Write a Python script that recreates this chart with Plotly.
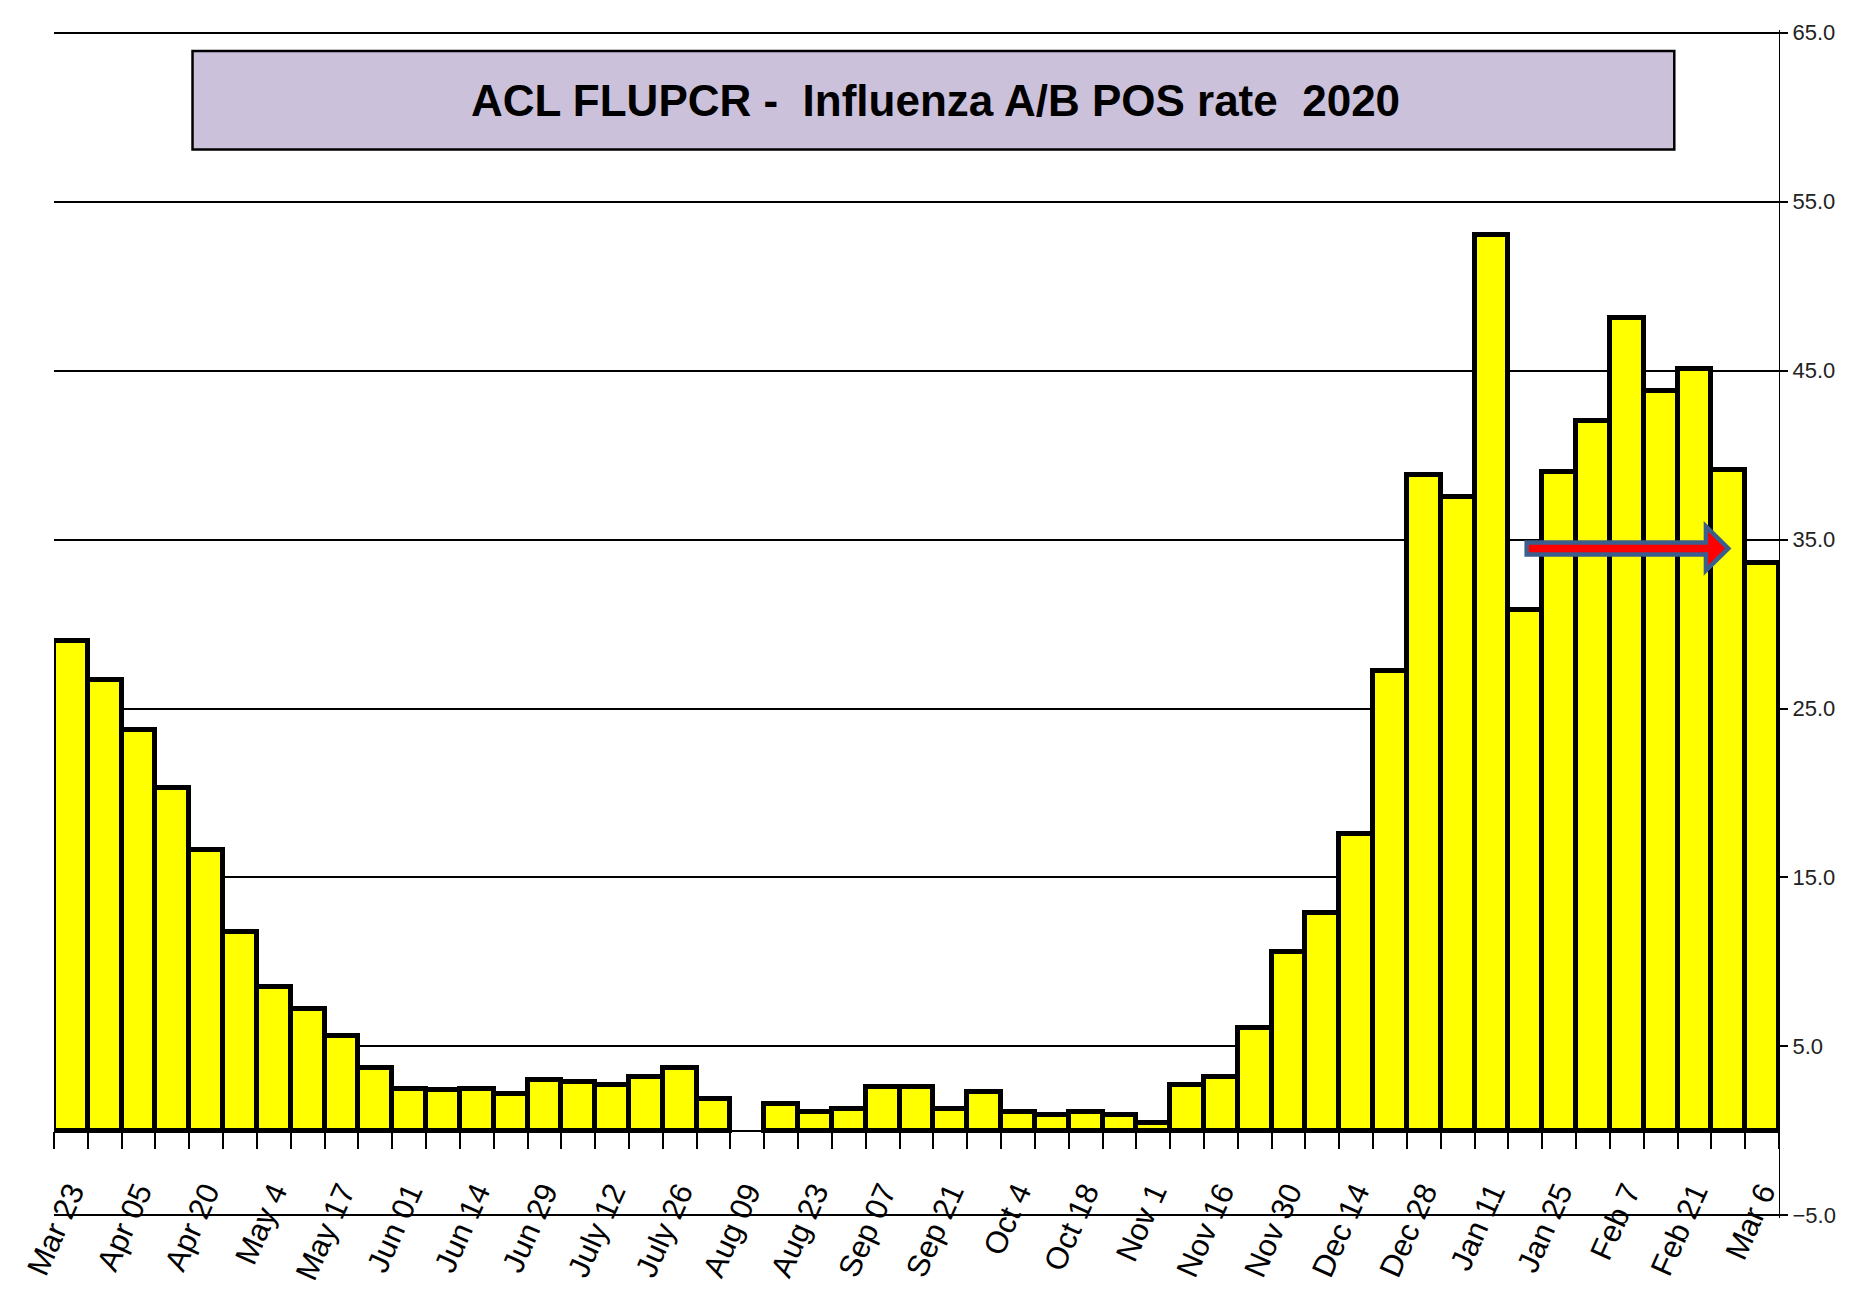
import plotly.graph_objects as go

# ---- data -------------------------------------------------------------
tick_labels = ["Mar 23", "Apr 05", "Apr 20", "May 4", "May 17", "Jun 01", "Jun 14",
               "Jun 29", "July 12", "July 26", "Aug 09", "Aug 23", "Sep 07", "Sep 21",
               "Oct 4", "Oct 18", "Nov 1", "Nov 16", "Nov 30", "Dec 14", "Dec 28",
               "Jan 11", "Jan 25", "Feb 7", "Feb 21", "Mar 6"]

pos_rate = [29.0, 26.7, 23.7, 20.3, 16.6, 11.8, 8.5, 7.2, 5.6, 3.7,
            2.5, 2.4, 2.5, 2.2, 3.0, 2.9, 2.7, 3.2, 3.7, 1.9,
            None, 1.6, 1.1, 1.3, 2.6, 2.6, 1.3, 2.3, 1.1, 0.95,
            1.1, 0.95, 0.45, 2.7, 3.2, 6.1, 10.6, 12.9, 17.6, 27.2,
            38.8, 37.5, 53.0, 30.8, 39.0, 42.0, 48.1, 43.8, 45.1, 39.1,
            33.6]

title_text = "ACL FLUPCR -\u00a0\u00a0Influenza A/B POS rate\u00a0\u00a02020"

# arrow annotation (week index span and level)
arrow_from, arrow_to, arrow_level = 43.04, 49.0, 34.47

# ---- figure -----------------------------------------------------------
week_pos = list(range(len(pos_rate)))
label_pos = week_pos[::2]

FONT = "Liberation Sans, Arial, sans-serif"
Y_MIN, Y_MAX, PAD = -5, 65, 0.15

fig = go.Figure()
fig.add_trace(go.Bar(
    x=week_pos, y=pos_rate, width=1,
    marker=dict(color="#FFFF00", line=dict(color="black", width=5)),
    showlegend=False, hoverinfo="x+y",
))

# block arrow
sh_h, hd_h, hd_len = 0.36, 1.3, 0.66
x0, x1, yc = arrow_from, arrow_to, arrow_level
xb = x1 - hd_len
path = (f"M {x0},{yc - sh_h} L {xb},{yc - sh_h} L {xb},{yc - hd_h} L {x1},{yc} "
        f"L {xb},{yc + hd_h} L {xb},{yc + sh_h} L {x0},{yc + sh_h} Z")
fig.add_shape(type="path", path=path, xref="x", yref="y",
              fillcolor="#FF0000", line=dict(color="#3B5E8C", width=4.5), layer="above")

# title box
fig.add_shape(type="rect", xref="paper", yref="paper",
              x0=0.0803, x1=0.9393, y0=0.8995, y1=0.9823,
              fillcolor="#CCC1DA", line=dict(color="black", width=2.5), layer="above")
fig.add_annotation(xref="paper", yref="paper", x=0.511, y=0.941,
                   text="<b>" + title_text + "</b>", showarrow=False,
                   font=dict(family=FONT, size=44, color="black"),
                   xanchor="center", yanchor="middle")

# page body has an 8px margin: shrink the figure and margins accordingly
fig.update_layout(
    width=1840, height=1295,
    margin=dict(l=42, r=68, t=22, b=85, pad=0),
    plot_bgcolor="white", paper_bgcolor="white",
    bargap=0,
    xaxis=dict(
        type="linear", range=[-0.5, len(pos_rate) - 0.5],
        anchor="free", position=(0 - (Y_MIN - PAD)) / (Y_MAX - Y_MIN + 2 * PAD),
        showline=True, linecolor="black", linewidth=1.5,
        showgrid=False, zeroline=False,
        tickmode="array", tickvals=label_pos, ticktext=tick_labels,
        ticks="", tickangle=-66, ticklabelstandoff=30,
        tickfont=dict(family=FONT, size=31, color="black"),
        minor=dict(tickmode="array", tickvals=[p - 0.5 for p in week_pos] + [len(pos_rate) - 0.5],
                   ticks="outside", ticklen=17, tickcolor="black", tickwidth=1.5, showgrid=False),
    ),
    yaxis=dict(
        side="right", range=[Y_MIN - PAD, Y_MAX + PAD], tickmode="linear", tick0=Y_MIN, dtick=10,
        tickformat=".1f",
        showgrid=True, gridcolor="black", gridwidth=2,
        ticks="outside", ticklen=8, tickcolor="black", tickwidth=2,
        showline=True, linecolor="black", linewidth=1.2, mirror=False,
        zeroline=False,
        tickfont=dict(family=FONT, size=22, color="#222222"),
    ),
)

fig.write_html("out.html")
